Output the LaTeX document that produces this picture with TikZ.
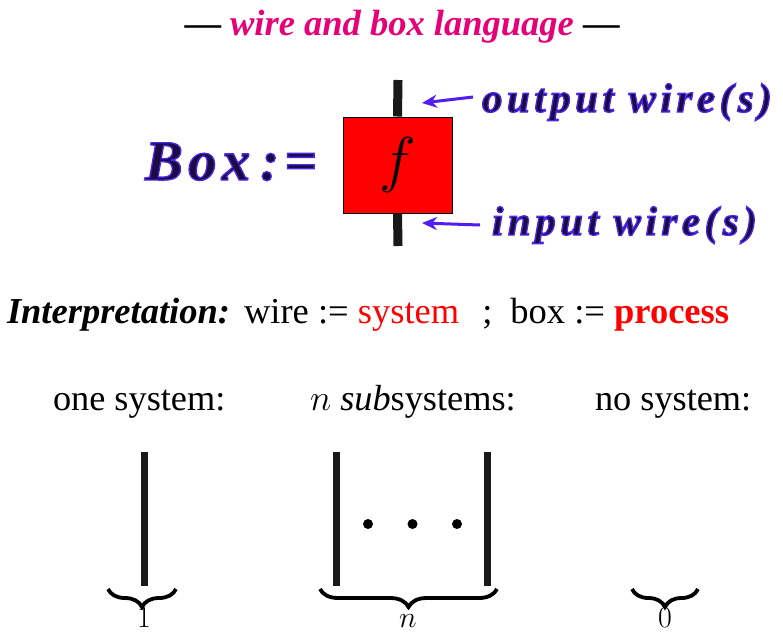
\RequirePackage{fix-cm}
\documentclass[tikz,border=0pt]{standalone}
\usepackage[no-math]{fontspec}
\setmainfont{Liberation Serif}
\newfontfamily\labelfont[LetterSpace=11]{Liberation Serif}
\newfontfamily\boxnamefont[LetterSpace=9]{Liberation Serif}
\usetikzlibrary{decorations.pathreplacing,arrows.meta}
\definecolor{ink}{RGB}{28,10,66}
\definecolor{arrowblue}{RGB}{80,30,240}
\definecolor{titlemag}{RGB}{230,0,120}
\definecolor{boxred}{RGB}{255,0,0}
\definecolor{wireblack}{RGB}{25,25,25}
\newcommand{\glowon}{\special{pdf:literal direct 0.30 0.16 0.92 RG 1.3 w 2 Tr}}
\newcommand{\glowoff}{\special{pdf:literal direct 0 Tr}}
\tikzset{
  txt/.style={inner sep=0pt, outer sep=0pt},
  wire/.style={line width=9pt, draw=wireblack},
  thinwire/.style={line width=7pt, draw=wireblack},
  pointer/.style={line width=3pt, draw=arrowblue, -{Stealth[length=15pt,width=13pt]}},
  undbrace/.style={decorate, decoration={brace, mirror, amplitude=18pt}, line width=3.8pt},
  bracelabel/.style={txt, font=\fontsize{30}{32}\selectfont},
  dot/.style={circle, fill=black, inner sep=0pt, minimum size=10pt},
}
\begin{document}
\begin{tikzpicture}[x=1pt,y=-1pt]
\useasboundingbox (0,0) rectangle (783,638);

% title
\node[txt, anchor=base] (title) at (402,35)
  {\fontsize{36.5}{40}\selectfont\bfseries —\ \textcolor{titlemag}{\itshape wire and box language}\ —};

% Box :=
\node[txt, anchor=base west] (boxname) at (145,180)
  {\color{ink}\glowon\boxnamefont\fontsize{57}{60}\selectfont\bfseries\itshape Box\hspace{10pt}:=\glowoff};

% wire and box
\coordinate (wtop) at (398,80);
\coordinate (wbot) at (398,246);
\node[draw=black, line width=1pt, fill=boxred, minimum width=109pt, minimum height=96pt, inner sep=0pt]
  (fbox) at (397.5,165) {\fontsize{62}{62}\selectfont$f$};
\draw[wire] (wtop) -- (fbox.north);
\draw[wire] (fbox.south) -- (wbot);

% labels
\node[txt, anchor=base west] (outlabel) at (482,112)
  {\color{ink}\glowon\labelfont\fontsize{41}{44}\selectfont\bfseries\itshape output wire(s)\glowoff};
\node[txt, anchor=base west] (inlabel) at (492,235)
  {\color{ink}\glowon\labelfont\fontsize{41}{44}\selectfont\bfseries\itshape input wire(s)\glowoff};
\coordinate (outtail) at (473,97);
\coordinate (outtip) at (422,103);
\coordinate (intail) at (480,225);
\coordinate (intip) at (422,223);
\draw[pointer] (outtail) -- (outtip);
\draw[pointer] (intail) -- (intip);

% interpretation
\node[txt, anchor=base west] (interp) at (7,323)
  {\fontsize{36.5}{40}\selectfont\textbf{\textit{Interpretation:}}\hspace{14pt}wire := \textcolor{boxred}{system}\hspace{23pt};\hspace{18pt}box := \textcolor{boxred}{\textbf{process}}};

% captions
\node[txt, anchor=base west] (cone) at (53,410)
  {\fontsize{36.3}{40}\selectfont one system:};
\node[txt, anchor=base west] (cn) at (310,410)
  {\fontsize{36.3}{40}\selectfont$n$ \textit{sub}systems:};
\node[txt, anchor=base west] (czero) at (595,410)
  {\fontsize{36.3}{40}\selectfont no system:};

% one system
\coordinate (s1top) at (144,452);
\coordinate (s1bot) at (144,586);
\draw[thinwire] (s1top) -- (s1bot);

% n subsystems
\coordinate (nltop) at (336.5,452);
\coordinate (nlbot) at (336.5,586);
\coordinate (nrtop) at (487,452);
\coordinate (nrbot) at (487,586);
\draw[thinwire] (nltop) -- (nlbot);
\draw[thinwire] (nrtop) -- (nrbot);
\node[dot] (d1) at (368,524) {};
\node[dot] (d2) at (412.5,524) {};
\node[dot] (d3) at (457,524) {};

% braces
\coordinate (b1l) at (108,589);
\coordinate (b1r) at (176,589);
\coordinate (bnl) at (320,589);
\coordinate (bnr) at (497,589);
\coordinate (b0l) at (632,589);
\coordinate (b0r) at (698,589);
\draw[undbrace] (b1l) -- (b1r);
\draw[undbrace] (bnl) -- (bnr);
\draw[undbrace] (b0l) -- (b0r);
\node[bracelabel, anchor=base] (l1) at (144,627) {$1$};
\node[bracelabel, anchor=base] (ln) at (408,627) {$n$};
\node[bracelabel, anchor=base] (l0) at (665,627) {$0$};
\end{tikzpicture}
\end{document}
